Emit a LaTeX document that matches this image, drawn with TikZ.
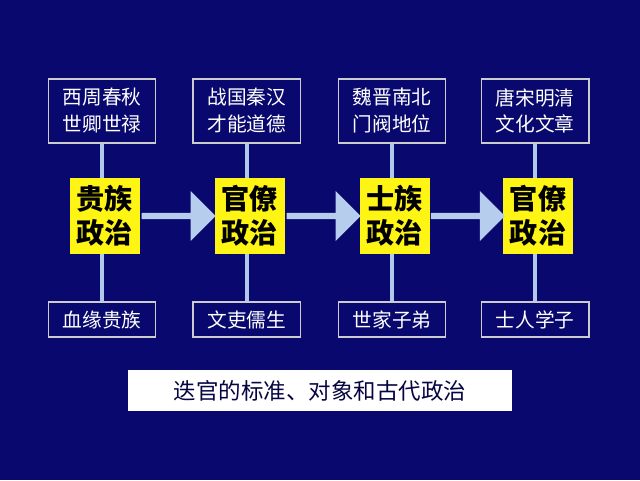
\documentclass[tikz,border=0pt]{standalone}
\usepackage{fontspec}
\setmainfont{Noto Sans CJK SC}
\usetikzlibrary{shapes.arrows}
\definecolor{navy}{RGB}{8,8,110}
\definecolor{lineblue}{RGB}{175,200,235}
\definecolor{boxyellow}{RGB}{255,245,20}
\tikzset{
  topbox/.style={draw=gray!40, line width=1.2pt, fill=navy, text=white, minimum width=2.68cm, minimum height=1.6cm, align=center, font=\fontsize{14}{19}\selectfont, inner sep=1pt},
  lowbox/.style={draw=gray!40, line width=1.2pt, fill=navy, text=white, minimum width=2.68cm, minimum height=0.88cm, font=\fontsize{14}{16}\selectfont},
  polbox/.style={fill=boxyellow, minimum width=1.75cm, minimum height=1.92cm, align=center, font=\bfseries\fontsize{20}{24}\selectfont, inner sep=1pt},
  flow/.style={single arrow, fill=lineblue!90!white, minimum height=1.85cm, minimum width=1.25cm, single arrow head extend=0.05cm, inner sep=0pt}
}
\begin{document}
\begin{tikzpicture}
\fill[navy] (0,0) rectangle (16,12);
\useasboundingbox (0,0) rectangle (16,12);
% columns
\foreach \n/\x/\up/\low/\pol in {a/2.55/西周春秋\\世卿世禄/血缘贵族/贵族\\政治,
  b/6.17/战国秦汉\\才能道德/文吏儒生/官僚\\政治,
  c/9.8/魏晋南北\\门阀地位/世家子弟/士族\\政治,
  d/13.38/唐宋明清\\文化文章/士人学子/官僚\\政治}
{
  \node[topbox] (top\n) at (\x,9.23) {\up};
  \node[lowbox] (low\n) at (\x,4.01) {\low};
  \draw[lineblue, line width=2.5pt] (top\n.south) -- (low\n.north);
  \node[polbox] (pol\n) at (\x+0.07,6.6) {\pol};
}
% arrows
\foreach \p/\q in {a/b,b/c,c/d}
{
  \path (pol\p.east) -- node[flow] (arr\p) {} (pol\q.west);
}
\node[fill=white, minimum width=9.6cm, minimum height=1.02cm, font=\fontsize{16}{18}\selectfont, text=navy!60!black] (title) at (8,2.23) {迭官的标准、对象和古代政治};
\end{tikzpicture}
\end{document}
